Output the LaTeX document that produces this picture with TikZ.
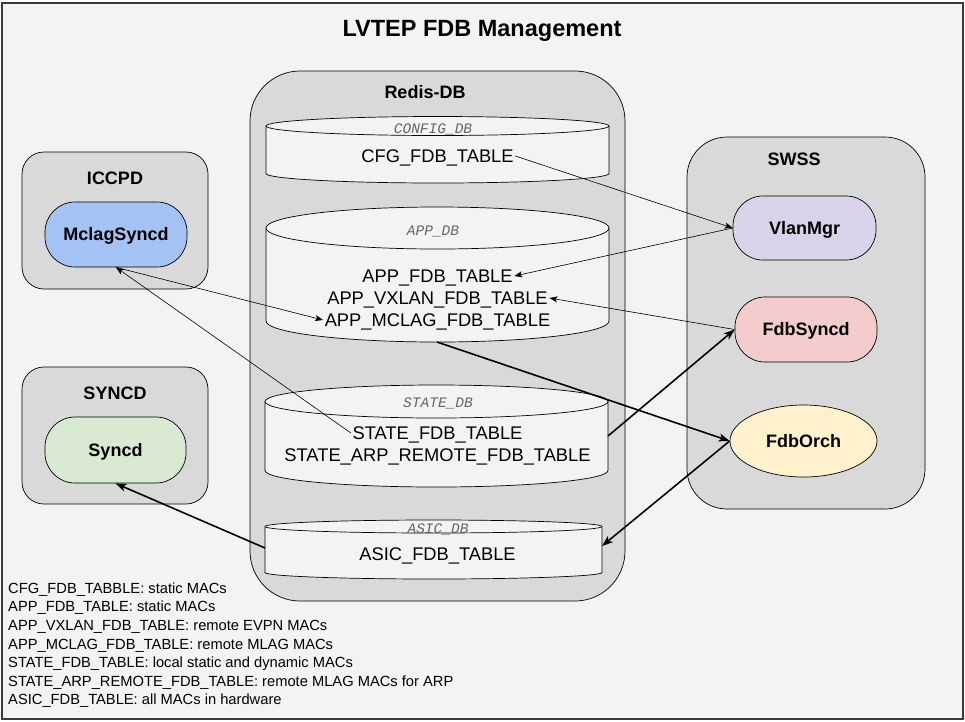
\documentclass[tikz,border=0pt]{standalone}
\usepackage{fontspec}
\setmainfont{Liberation Sans}
\newfontfamily\dbmono{Liberation Mono}
\usetikzlibrary{arrows.meta,shapes.geometric}
\definecolor{bgc}{HTML}{F3F3F3}
\definecolor{boxc}{HTML}{D9D9D9}
\definecolor{mclagc}{HTML}{A4C2F4}
\definecolor{syncdc}{HTML}{D9EAD3}
\definecolor{vlanc}{HTML}{D9D2E9}
\definecolor{fdbsc}{HTML}{F4CCCC}
\definecolor{orchc}{HTML}{FFF2CC}
\definecolor{framec}{HTML}{3A3A3A}
\definecolor{dblabc}{HTML}{666666}
\newcommand\drawcyl[5]{%
  \pgfmathsetmacro\cylrx{(#2-#1)/2}%
  \filldraw[cylst] (#1,#3+#5) -- (#1,#4-#5) arc[start angle=180,end angle=0,x radius=\cylrx,y radius=#5] -- (#2,#3+#5) arc[start angle=0,end angle=-180,x radius=\cylrx,y radius=#5] -- cycle;
  \draw[cylst] (#1,#3+#5) arc[start angle=180,end angle=0,x radius=\cylrx,y radius=#5];
}
\begin{document}
\begin{tikzpicture}[x=1pt,y=-1pt,
  container/.style={draw, fill=boxc, line width=0.7pt, inner sep=0pt},
  cylst/.style={draw, fill=bgc, line width=0.7pt},
  proc/.style={draw, line width=0.7pt, font=\fontsize{18}{22}\bfseries\selectfont, text height=12.9pt, text depth=0pt},
  boxtitle/.style={font=\fontsize{18}{22}\bfseries\selectfont, text height=12.9pt, text depth=0pt, inner sep=1pt},
  tabtext/.style={font=\fontsize{18.3}{22}\selectfont, text height=13.1pt, text depth=0pt, inner sep=1.5pt},
  dblabel/.style={font=\fontsize{14.5}{17}\dbmono\itshape\selectfont, text=dblabc, text height=9pt, text depth=0pt, inner sep=1pt},
  thinarrow/.style={-{Stealth[length=8pt,width=6pt,inset=2pt]}, line width=0.6pt},
  thickarrow/.style={-{Stealth[length=11pt,width=8pt,inset=3pt]}, line width=1.6pt}
]
\useasboundingbox (0,0) rectangle (965,721);
\draw[framec, line width=2pt, fill=bgc] (1.5,2.5) rectangle (963,718.5);

\node[font=\fontsize{23.5}{27}\bfseries\selectfont, text height=17pt, text depth=0pt] (title) at (482,28) {LVTEP FDB Management};

% containers
\node[container, rounded corners=50pt, minimum width=375pt, minimum height=530pt] (redis) at (437.5,336) {};
\node[boxtitle] (redistitle) at (425,92) {Redis-DB};
\node[container, rounded corners=22pt, minimum width=186pt, minimum height=137pt] (iccpd) at (115,220.5) {};
\node[boxtitle] (iccpdtitle) at (115,178) {ICCPD};
\node[container, rounded corners=22pt, minimum width=186pt, minimum height=137pt] (syncdbox) at (115,435.5) {};
\node[boxtitle] (syncdtitle) at (115,393) {SYNCD};
\node[container, rounded corners=40pt, minimum width=238pt, minimum height=372pt] (swss) at (806,323) {};
\node[boxtitle] (swsstitle) at (794,159) {SWSS};

% processes
\node[proc, fill=mclagc, rounded corners=30pt, minimum width=142pt, minimum height=65pt] (mclag) at (116,234.5) {MclagSyncd};
\node[proc, fill=syncdc, rounded corners=30pt, minimum width=141pt, minimum height=66pt] (syncd) at (115.5,450) {Syncd};
\node[proc, fill=vlanc, rounded corners=30pt, minimum width=143pt, minimum height=64pt] (vlan) at (804.5,228) {VlanMgr};
\node[proc, fill=fdbsc, rounded corners=30pt, minimum width=142pt, minimum height=65pt] (fdbsyncd) at (806,329.5) {FdbSyncd};
\node[proc, fill=orchc, ellipse, inner sep=0pt, minimum width=147pt, minimum height=72pt] (fdborch) at (803.5,441) {FdbOrch};

% databases
\drawcyl{266}{609}{116.5}{183}{9.5}
\drawcyl{266}{609}{207}{342}{21}
\drawcyl{265}{608}{385}{487}{16.5}
\drawcyl{265}{602}{520}{579}{6.5}

\node[dblabel] (cfgdb) at (433,129) {CONFIG\_DB};
\node[dblabel] (appdb) at (433,230.5) {APP\_DB};
\node[dblabel] (statedb) at (438,402.5) {STATE\_DB};
\node[dblabel] (asicdb) at (438,529) {ASIC\_DB};

\node[tabtext] (cfg) at (437.5,156) {CFG\_FDB\_TABLE};
\node[tabtext] (appfdb) at (437.5,276) {APP\_FDB\_TABLE};
\node[tabtext] (appvx) at (437.5,298) {APP\_VXLAN\_FDB\_TABLE};
\node[tabtext] (appmclag) at (437.5,320) {APP\_MCLAG\_FDB\_TABLE};
\node[tabtext] (statefdb) at (437.5,433) {STATE\_FDB\_TABLE};
\node[tabtext] (statearp) at (437.5,455) {STATE\_ARP\_REMOTE\_FDB\_TABLE};
\node[tabtext] (asicfdb) at (437.5,554) {ASIC\_FDB\_TABLE};

\coordinate (appbot) at (437,342);
\coordinate (stateR) at (608,436);
\coordinate (asicR) at (602,546);
\coordinate (asicL) at (265,548);

% legend
\node[anchor=north west, align=left, inner sep=0pt, font=\fontsize{14.7}{18.6}\selectfont] (legend) at (8,582.5) {%
CFG\_FDB\_TABBLE: static MACs\\
APP\_FDB\_TABLE: static MACs\\
APP\_VXLAN\_FDB\_TABLE: remote EVPN MACs\\
APP\_MCLAG\_FDB\_TABLE: remote MLAG MACs\\
STATE\_FDB\_TABLE: local static and dynamic MACs\\
STATE\_ARP\_REMOTE\_FDB\_TABLE: remote MLAG MACs for ARP\\
ASIC\_FDB\_TABLE: all MACs in hardware};

% connectors
\draw[thinarrow] (cfg.east) -- (vlan.west);
\draw[thinarrow] (vlan.west) -- (appfdb.east);
\draw[thinarrow] (fdbsyncd.west) -- (appvx.east);
\draw[thinarrow] (mclag.south) -- (appmclag.west);
\draw[thinarrow] (statefdb.west) -- (mclag.south);
\draw[thickarrow] (appbot) -- (fdborch.west);
\draw[thickarrow] (stateR) -- (fdbsyncd.west);
\draw[thickarrow] (fdborch.west) -- (asicR);
\draw[thickarrow] (asicL) -- (syncd.south);
\end{tikzpicture}
\end{document}
